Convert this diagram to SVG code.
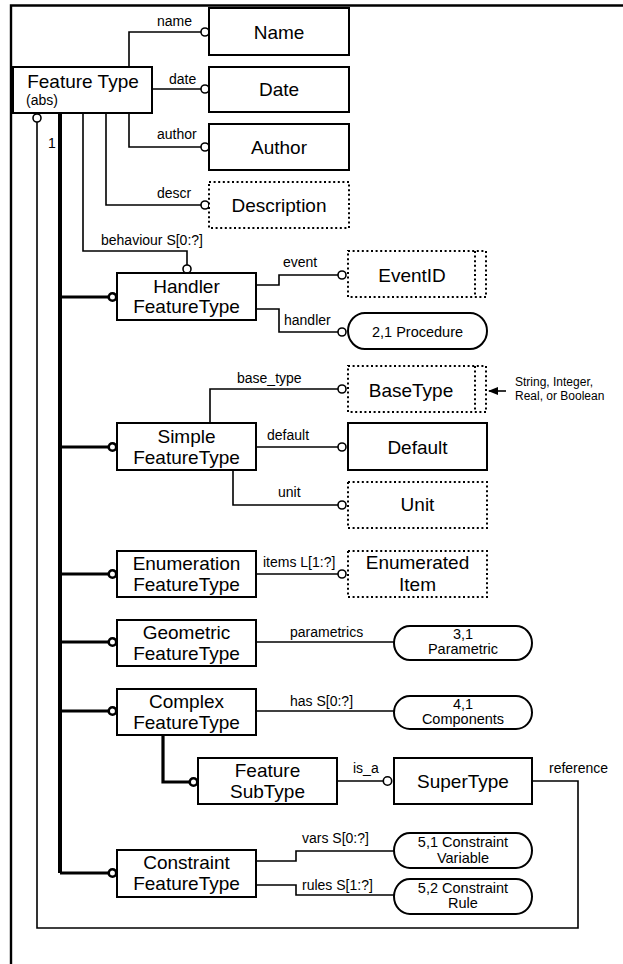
<svg xmlns="http://www.w3.org/2000/svg" width="623" height="964" viewBox="0 0 623 964">
  <defs>
    <style>
      .box { fill: #fff; stroke: #000; stroke-width: 2; }
      .dot { fill: #fff; stroke: #000; stroke-width: 2; stroke-dasharray: 2 2.6; }
      .dl { fill: none; stroke: #000; stroke-width: 2; stroke-dasharray: 2 2.6; }
      .conn { fill: none; stroke: #000; stroke-width: 1.6; }
      .thick { fill: none; stroke: #000; stroke-width: 3.2; }
      .spine { fill: none; stroke: #000; stroke-width: 4; }
      .oc { fill: #fff; stroke: #000; stroke-width: 1.6; }
      .boc { fill: #fff; stroke: #000; stroke-width: 2.6; }
      text { font-family: "Liberation Sans", Arial, sans-serif; fill: #000; }
      .nm { font-size: 19px; text-anchor: middle; }
      .pl { font-size: 14.5px; text-anchor: middle; }
      .lb { font-size: 14px; }
      .note { font-size: 12px; }
    </style>
    <marker id="arrow" markerWidth="10" markerHeight="8" refX="9" refY="4" orient="auto" markerUnits="userSpaceOnUse">
      <path d="M0,0 L10,4 L0,8 z" fill="#000"/>
    </marker>
  </defs>

  <rect width="623" height="964" fill="#fff"/>

  <!-- page border (top and left edges) -->
  <path d="M11,964 V5.5 H623" fill="none" stroke="#000" stroke-width="2.4"/>

  <!-- connectors -->
  <g id="connectors">
    <!-- Feature Type attributes -->
    <path class="conn" d="M129,67 V32 H201"/>
    <circle class="oc" cx="205" cy="32" r="4"/>
    <text class="lb" x="157" y="26">name</text>

    <path class="conn" d="M152,89 H201"/>
    <circle class="oc" cx="205" cy="89" r="4"/>
    <text class="lb" x="169" y="84">date</text>

    <path class="conn" d="M129,113 V147 H201"/>
    <circle class="oc" cx="205" cy="147" r="4"/>
    <text class="lb" x="157" y="139">author</text>

    <path class="conn" d="M106,113 V205 H201"/>
    <circle class="oc" cx="205" cy="205" r="4"/>
    <text class="lb" x="157" y="198">descr</text>

    <path class="conn" d="M83,113 V251 H187 V265"/>
    <circle class="oc" cx="187" cy="269" r="4"/>
    <text class="lb" x="101" y="245">behaviour S[0:?]</text>

    <!-- self reference loop -->
    <circle class="oc" cx="37" cy="118" r="4"/>
    <path class="conn" d="M37,122 V928 H578 V781 H532"/>
    <text class="lb" x="549" y="773">reference</text>

    <!-- subtype spine -->
    <path class="spine" d="M60,113 V873"/>
    <text class="lb" x="48" y="148">1</text>
    <path class="thick" d="M60,297 H108"/>
    <circle class="boc" cx="112.5" cy="297" r="3.8"/>
    <path class="thick" d="M60,447 H108"/>
    <circle class="boc" cx="112.5" cy="447" r="3.8"/>
    <path class="thick" d="M60,574 H108"/>
    <circle class="boc" cx="112.5" cy="574" r="3.8"/>
    <path class="thick" d="M60,642 H108"/>
    <circle class="boc" cx="112.5" cy="642" r="3.8"/>
    <path class="thick" d="M60,711 H108"/>
    <circle class="boc" cx="112.5" cy="711" r="3.8"/>
    <path class="thick" d="M60,873 H108"/>
    <circle class="boc" cx="112.5" cy="873" r="3.8"/>
    <path class="thick" d="M163,735 V782 H189"/>
    <circle class="boc" cx="193.5" cy="782" r="3.8"/>

    <!-- Handler -->
    <path class="conn" d="M256,285 H279 V275 H338"/>
    <circle class="oc" cx="342" cy="275" r="4"/>
    <text class="lb" x="283" y="267">event</text>
    <path class="conn" d="M256,309 H279 V332 H338"/>
    <circle class="oc" cx="342" cy="332" r="4"/>
    <text class="lb" x="284" y="325">handler</text>

    <!-- Simple -->
    <path class="conn" d="M210,423 V389 H338"/>
    <circle class="oc" cx="342" cy="389" r="4"/>
    <text class="lb" x="237" y="383">base_type</text>
    <path class="conn" d="M256,447 H338"/>
    <circle class="oc" cx="342" cy="447" r="4"/>
    <text class="lb" x="267" y="440">default</text>
    <path class="conn" d="M233,470 V505 H338"/>
    <circle class="oc" cx="342" cy="505" r="4"/>
    <text class="lb" x="278" y="497">unit</text>

    <!-- Enumeration -->
    <path class="conn" d="M256,574 H338"/>
    <circle class="oc" cx="342" cy="574" r="4"/>
    <text class="lb" x="263" y="567">items L[1:?]</text>

    <!-- Geometric / Complex -->
    <path class="conn" d="M256,642 H394"/>
    <text class="lb" x="290" y="637">parametrics</text>
    <path class="conn" d="M256,711 H394"/>
    <text class="lb" x="290" y="706">has S[0:?]</text>

    <!-- SubType -->
    <path class="conn" d="M337,781 H383"/>
    <circle class="oc" cx="387.5" cy="781" r="4.2"/>
    <text class="lb" x="353" y="773">is_a</text>

    <!-- Constraint -->
    <path class="conn" d="M256,861 H296 V851 H394"/>
    <text class="lb" x="302" y="843">vars S[0:?]</text>
    <path class="conn" d="M256,885 H296 V895 H394"/>
    <text class="lb" x="302" y="890">rules S[1:?]</text>

    <!-- BaseType note -->
    <path class="conn" d="M506,391 H489" marker-end="url(#arrow)" stroke-width="1.3"/>
  </g>

  <!-- nodes -->
  <g id="feature-type">
    <rect class="box" x="13" y="67" width="139" height="46"/>
    <text class="nm" x="83" y="88">Feature Type</text>
    <text x="26" y="105" font-size="14px">(abs)</text>
  </g>
  <g id="name">
    <rect class="box" x="209" y="8" width="140" height="47"/>
    <text class="nm" x="279" y="39">Name</text>
  </g>
  <g id="date">
    <rect class="box" x="209" y="67" width="140" height="45"/>
    <text class="nm" x="279" y="96">Date</text>
  </g>
  <g id="author">
    <rect class="box" x="209" y="124" width="140" height="46"/>
    <text class="nm" x="279" y="154">Author</text>
  </g>
  <g id="description">
    <rect class="dot" x="209" y="182" width="140" height="46"/>
    <text class="nm" x="279" y="212">Description</text>
  </g>

  <g id="handler-featuretype">
    <rect class="box" x="117" y="273" width="139" height="47"/>
    <text class="nm" x="186.5" y="293">Handler</text>
    <text class="nm" x="186.5" y="313">FeatureType</text>
  </g>
  <g id="eventid">
    <rect class="dot" x="348" y="251" width="138" height="46"/>
    <path class="dl" d="M475,251 V297"/>
    <text class="nm" x="412" y="282">EventID</text>
  </g>
  <g id="procedure">
    <rect class="box" x="348" y="313" width="139" height="36" rx="17" ry="18"/>
    <text class="pl" x="417.5" y="337">2,1 Procedure</text>
  </g>

  <g id="simple-featuretype">
    <rect class="box" x="117" y="423" width="139" height="47"/>
    <text class="nm" x="186.5" y="443">Simple</text>
    <text class="nm" x="186.5" y="464">FeatureType</text>
  </g>
  <g id="basetype">
    <rect class="dot" x="348" y="366" width="138" height="46"/>
    <path class="dl" d="M475,366 V412"/>
    <text class="nm" x="411" y="397">BaseType</text>
  </g>
  <g id="basetype-note">
    <text class="note" x="515" y="386">String, Integer,</text>
    <text class="note" x="515" y="400">Real, or Boolean</text>
  </g>
  <g id="default">
    <rect class="box" x="348" y="423" width="139" height="47"/>
    <text class="nm" x="417.5" y="454">Default</text>
  </g>
  <g id="unit">
    <rect class="dot" x="348" y="482" width="139" height="46"/>
    <text class="nm" x="417.5" y="511">Unit</text>
  </g>

  <g id="enumeration-featuretype">
    <rect class="box" x="117" y="551" width="139" height="46"/>
    <text class="nm" x="186.5" y="570">Enumeration</text>
    <text class="nm" x="186.5" y="591">FeatureType</text>
  </g>
  <g id="enumerated-item">
    <rect class="dot" x="348" y="551" width="139" height="46"/>
    <text class="nm" x="417.5" y="569">Enumerated</text>
    <text class="nm" x="417.5" y="591">Item</text>
  </g>

  <g id="geometric-featuretype">
    <rect class="box" x="117" y="620" width="139" height="46"/>
    <text class="nm" x="186.5" y="639">Geometric</text>
    <text class="nm" x="186.5" y="660">FeatureType</text>
  </g>
  <g id="parametric">
    <rect class="box" x="394" y="626" width="138" height="34" rx="16" ry="17"/>
    <text class="pl" x="463" y="639">3,1</text>
    <text class="pl" x="463" y="654">Parametric</text>
  </g>

  <g id="complex-featuretype">
    <rect class="box" x="117" y="689" width="139" height="46"/>
    <text class="nm" x="186.5" y="708">Complex</text>
    <text class="nm" x="186.5" y="729">FeatureType</text>
  </g>
  <g id="components">
    <rect class="box" x="394" y="696" width="138" height="33" rx="16" ry="16.5"/>
    <text class="pl" x="463" y="709">4,1</text>
    <text class="pl" x="463" y="724">Components</text>
  </g>

  <g id="feature-subtype">
    <rect class="box" x="198" y="758" width="139" height="46"/>
    <text class="nm" x="267.5" y="777">Feature</text>
    <text class="nm" x="267.5" y="798">SubType</text>
  </g>
  <g id="supertype">
    <rect class="box" x="394" y="758" width="138" height="46"/>
    <text class="nm" x="463" y="788">SuperType</text>
  </g>

  <g id="constraint-featuretype">
    <rect class="box" x="117" y="850" width="139" height="47"/>
    <text class="nm" x="186.5" y="869">Constraint</text>
    <text class="nm" x="186.5" y="890">FeatureType</text>
  </g>
  <g id="constraint-variable">
    <rect class="box" x="394" y="833" width="138" height="35" rx="16" ry="17.5"/>
    <text class="pl" x="463" y="847">5,1 Constraint</text>
    <text class="pl" x="463" y="863">Variable</text>
  </g>
  <g id="constraint-rule">
    <rect class="box" x="394" y="879" width="138" height="35" rx="16" ry="17.5"/>
    <text class="pl" x="463" y="893">5,2 Constraint</text>
    <text class="pl" x="463" y="908">Rule</text>
  </g>
</svg>
